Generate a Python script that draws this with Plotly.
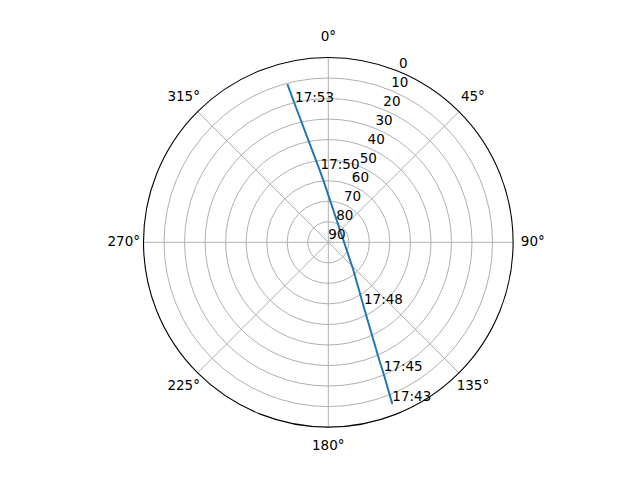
import plotly.graph_objects as go

# Satellite pass track (azimuth deg, elevation deg)
track_az = [158.4, 157.2, 156.6, 151.4, 137.9, 73.4, 355.4, 353.7, 346.4, 345.5]
track_el = [5.3, 20.3, 27.5, 53.7, 71.8, 82.7, 59.6, 55.9, 21.2, 10.4]

# Time labels along the pass
label_times = ["17:43", "17:45", "17:48", "17:50", "17:53"]
label_az = [158.4, 157.2, 151.4, 353.7, 346.4]
label_el = [5.3, 20.3, 53.7, 55.9, 21.2]

angle_ticks = [0, 45, 90, 135, 180, 225, 270, 315]
radial_ticks = [0, 10, 20, 30, 40, 50, 60, 70, 80, 90]
radial_label_angle = 22.5     # direction along which radial tick labels sit

font_family = "DejaVu Sans"
fs = 13.5

fig = go.Figure()
fig.add_trace(go.Scatterpolar(
    r=track_el, theta=track_az, mode="lines",
    line=dict(color="#1f77b4", width=2), showlegend=False, hoverinfo="skip"))
fig.add_trace(go.Scatterpolar(
    r=label_el, theta=label_az, mode="text", text=label_times,
    textposition="top right",
    textfont=dict(family=font_family, size=fs, color="black"),
    showlegend=False, hoverinfo="skip"))
# radial tick labels
fig.add_trace(go.Scatterpolar(
    r=radial_ticks, theta=[radial_label_angle] * len(radial_ticks),
    mode="text", text=[str(v) for v in radial_ticks],
    textposition="top right", cliponaxis=False,
    textfont=dict(family=font_family, size=fs, color="black"),
    showlegend=False, hoverinfo="skip"))
# angular tick labels, on an invisible outer polar frame
fig.add_trace(go.Scatterpolar(
    r=[1] * len(angle_ticks), theta=angle_ticks, subplot="polar2",
    mode="text", text=[f"{a}°" for a in angle_ticks],
    textposition="middle center", cliponaxis=False,
    textfont=dict(family=font_family, size=fs, color="black"),
    showlegend=False, hoverinfo="skip"))

# page body has an 8px margin, so compensate
off = 8
cx, cy, R = 328.3 - off, 242.3 - off, 184.8
R2 = 204.5
W, H = 640, 480


def dom(rad):
    return dict(x=[(cx - rad) / W, (cx + rad) / W],
                y=[(H - cy - rad) / H, (H - cy + rad) / H])


hidden_axis = dict(showticklabels=False, showline=False, showgrid=False, ticks="")

fig.update_layout(
    width=W, height=H,
    margin=dict(l=0, r=0, t=0, b=0),
    paper_bgcolor="white",
    font=dict(family=font_family, size=fs, color="black"),
    polar=dict(
        domain=dom(R),
        bgcolor="white",
        angularaxis=dict(
            rotation=90, direction="clockwise",
            tickmode="array", tickvals=angle_ticks,
            showticklabels=False,
            showline=True, linecolor="black", linewidth=1.1,
            gridcolor="#b0b0b0", gridwidth=1.1, ticks="",
        ),
        radialaxis=dict(
            range=[90, 0], tickmode="array", tickvals=radial_ticks,
            showticklabels=False, showline=False, ticks="",
            gridcolor="#b0b0b0", gridwidth=1.1,
        ),
    ),
    polar2=dict(
        domain=dom(R2),
        bgcolor="rgba(0,0,0,0)",
        angularaxis=dict(rotation=90, direction="clockwise", **hidden_axis),
        radialaxis=dict(range=[0, 1], **hidden_axis),
    ),
)

fig.write_html("out.html")
